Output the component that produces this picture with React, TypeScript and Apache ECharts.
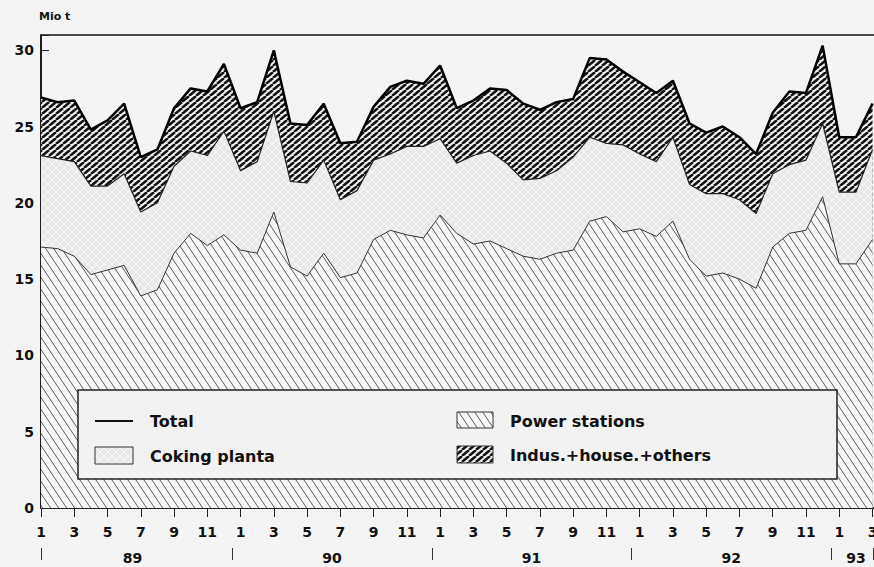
import React, { useEffect, useRef } from 'react';
import * as echarts from 'echarts';

// ---- data (Mio t), monthly Jan 1989 - Mar 1993 ----
const yearLabels = ['89', '90', '91', '92', '93'];
const monthsPerYear = [12, 12, 12, 12, 3];

const powerStations = [
  17.1, 17.0, 16.5, 15.3, 15.6, 15.9, 13.9, 14.3, 16.7, 18.0, 17.2, 17.9,
  16.9, 16.7, 19.4, 15.8, 15.2, 16.7, 15.1, 15.4, 17.6, 18.2, 17.9, 17.7,
  19.2, 18.0, 17.3, 17.5, 17.0, 16.5, 16.3, 16.7, 16.9, 18.8, 19.1, 18.1,
  18.3, 17.8, 18.8, 16.3, 15.2, 15.4, 15.0, 14.4, 17.1, 18.0, 18.2, 20.4,
  16.0, 16.0, 17.6,
];
const cokingPlants = [
  6.0, 5.9, 6.2, 5.8, 5.5, 6.0, 5.5, 5.7, 5.7, 5.4, 5.9, 6.8,
  5.2, 6.0, 6.6, 5.6, 6.1, 6.1, 5.1, 5.4, 5.2, 5.0, 5.8, 6.0,
  5.0, 4.6, 5.8, 5.9, 5.6, 5.0, 5.3, 5.4, 6.1, 5.5, 4.8, 5.7,
  4.9, 4.9, 5.5, 4.9, 5.4, 5.2, 5.2, 4.9, 4.8, 4.5, 4.6, 4.8,
  4.7, 4.7, 5.9,
];
const industryHouseOthers = [
  3.8, 3.7, 4.0, 3.7, 4.3, 4.6, 3.6, 3.5, 3.8, 4.1, 4.2, 4.4,
  4.1, 3.9, 4.0, 3.8, 3.8, 3.7, 3.7, 3.2, 3.5, 4.4, 4.3, 4.1,
  4.8, 3.6, 3.6, 4.1, 4.8, 5.0, 4.5, 4.5, 3.8, 5.2, 5.5, 4.8,
  4.7, 4.5, 3.7, 4.0, 4.0, 4.4, 4.1, 3.9, 4.0, 4.8, 4.4, 5.1,
  3.6, 3.6, 3.0,
];
const yTickValues = [0, 5, 10, 15, 20, 25, 30];

const FONT = 'DejaVu Sans';

function makePattern(w: number, h: number, draw: (ctx: CanvasRenderingContext2D) => void) {
  const c = document.createElement('canvas');
  c.width = w;
  c.height = h;
  const ctx = c.getContext('2d') as CanvasRenderingContext2D;
  draw(ctx);
  return { image: c.toDataURL(), repeat: 'repeat', imageWidth: w, imageHeight: h } as any;
}

export default function App() {
  const ref = useRef<HTMLDivElement>(null);

  useEffect(() => {
    if (!ref.current) return;
    const chart = echarts.init(ref.current, undefined, { renderer: 'svg' });

    // month number for each index, year label centres and separators
    const monthOf: number[] = [];
    const yearCenters: number[] = [];
    const yearSeps: number[] = [];
    let start = 0;
    monthsPerYear.forEach((n) => {
      for (let m = 1; m <= n; m++) monthOf.push(m);
      yearCenters.push(start + (n - 1) / 2);
      yearSeps.push(start - 0.5);
      start += n;
    });
    yearSeps.push(start - 0.5);
    const lastIdx = monthOf.length - 1;
    const sepTicks = yearSeps.map((b) => Math.min(Math.max(b, 0), lastIdx + 0.05));

    // cumulative boundaries of the stacked areas
    const cumPower = powerStations.map((p) => p);
    const cumCoking = powerStations.map((p, i) => +(p + cokingPlants[i]).toFixed(2));
    const total = powerStations.map((p, i) => +(p + cokingPlants[i] + industryHouseOthers[i]).toFixed(2));

    const powerPat = makePattern(8, 12, (ctx) => {
      ctx.fillStyle = '#f7f7f7';
      ctx.fillRect(0, 0, 8, 12);
      ctx.strokeStyle = '#5a5a5a';
      ctx.lineWidth = 1;
      for (const dx of [-8, 0, 8]) {
        ctx.beginPath();
        ctx.moveTo(dx, 0);
        ctx.lineTo(dx + 8, 12);
        ctx.stroke();
      }
    });
    const indusPat = makePattern(7, 6, (ctx) => {
      ctx.fillStyle = '#f2f2f2';
      ctx.fillRect(0, 0, 7, 6);
      ctx.strokeStyle = '#111';
      ctx.lineWidth = 2.5;
      for (const dx of [-7, 0, 7]) {
        ctx.beginPath();
        ctx.moveTo(dx, 6);
        ctx.lineTo(dx + 7, 0);
        ctx.stroke();
      }
    });
    const cokingPat = makePattern(8, 8, (ctx) => {
      ctx.fillStyle = '#e8e8e8';
      ctx.fillRect(0, 0, 8, 8);
      ctx.strokeStyle = 'rgba(255,255,255,0.75)';
      ctx.lineWidth = 1;
      ctx.beginPath();
      ctx.moveTo(0, 0);
      ctx.lineTo(8, 8);
      ctx.moveTo(0, 8);
      ctx.lineTo(8, 0);
      ctx.stroke();
    });

    const xMax = lastIdx + 0.45;
    const labelStyle = { color: '#111', fontFamily: FONT, fontWeight: 'bold' as const, fontSize: 14 };
    const textStyle = (t: string) => ({
      text: t,
      fill: '#111',
      fontFamily: FONT,
      fontWeight: 'bold',
      fontSize: 16,
      verticalAlign: 'middle',
      align: 'left',
    });

    chart.setOption({
      animation: false,
      backgroundColor: '#f4f4f4',
      title: {
        text: 'Mio t',
        left: 39,
        top: 11,
        padding: 0,
        textStyle: { fontFamily: FONT, fontWeight: 'bold', fontSize: 11, color: '#111' },
      },
      grid: {
        left: 41,
        top: 35,
        right: -6,
        bottom: 59,
        containLabel: false,
        outerBoundsMode: 'none',
        show: true,
        backgroundColor: 'transparent',
        borderColor: '#111',
        borderWidth: 1.5,
      },
      xAxis: [
        {
          type: 'value',
          min: 0,
          max: xMax,
          interval: 2,
          position: 'bottom',
          axisLine: { show: true, onZero: false, lineStyle: { color: '#111', width: 1.5 } },
          axisTick: { show: true, inside: false, length: 9, lineStyle: { color: '#222', width: 1 } },
          axisLabel: {
            ...labelStyle,
            margin: 17,
            formatter: (v: number) => (Number.isInteger(v) && v <= lastIdx ? String(monthOf[v]) : ''),
          },
          splitLine: { show: false },
        },
        {
          type: 'value',
          min: 0,
          max: xMax,
          interval: 1,
          position: 'bottom',
          axisLine: { show: false },
          axisTick: { show: true, inside: true, length: 6, lineStyle: { color: '#222', width: 1 } },
          axisLabel: { show: false },
          splitLine: { show: false },
        },
        {
          type: 'value',
          min: 0,
          max: xMax,
          position: 'bottom',
          offset: 40,
          axisLine: { show: false },
          axisTick: { show: true, inside: false, length: 12, customValues: sepTicks, lineStyle: { color: '#333', width: 1 } },
          axisLabel: {
            ...labelStyle,
            margin: 3,
            customValues: yearCenters,
            formatter: (v: number) => {
              const k = yearCenters.indexOf(v);
              return k >= 0 ? yearLabels[k] : '';
            },
          },
          splitLine: { show: false },
        },
      ],
      yAxis: {
        type: 'value',
        min: 0,
        max: 31,
        interval: 5,
        axisLine: { show: true, lineStyle: { color: '#111', width: 1.5 } },
        axisTick: { show: true, inside: true, length: 8, lineStyle: { color: '#222', width: 1 } },
        axisLabel: {
          ...labelStyle,
          margin: 7,
          formatter: (v: number) => (yTickValues.indexOf(v) >= 0 ? String(v) : ''),
        },
        splitLine: { show: false },
      },
      series: [
        {
          name: 'Indus.+house.+others',
          type: 'line',
          symbol: 'none',
          data: total.map((v, i) => [i, v]),
          lineStyle: { color: '#111', width: 1 },
          areaStyle: { color: indusPat, opacity: 1, origin: 'start' },
          z: 2,
        },
        {
          name: 'Coking planta',
          type: 'line',
          symbol: 'none',
          data: cumCoking.map((v, i) => [i, v]),
          lineStyle: { color: '#222', width: 1.2 },
          areaStyle: { color: cokingPat, opacity: 1, origin: 'start' },
          z: 3,
        },
        {
          name: 'Power stations',
          type: 'line',
          symbol: 'none',
          data: cumPower.map((v, i) => [i, v]),
          lineStyle: { color: '#333', width: 1 },
          areaStyle: { color: powerPat, opacity: 1, origin: 'start' },
          z: 4,
        },
        {
          name: 'Total',
          type: 'line',
          symbol: 'none',
          data: total.map((v, i) => [i, v]),
          lineStyle: { color: '#000', width: 2.5 },
          z: 5,
        },
      ],
      graphic: [
        {
          type: 'rect',
          z: 100,
          shape: { x: 78, y: 390, width: 759, height: 89 },
          style: { fill: '#f2f2f2', stroke: '#222', lineWidth: 1.5 },
        },
        {
          type: 'line',
          z: 101,
          shape: { x1: 95, y1: 421, x2: 133, y2: 421 },
          style: { stroke: '#111', lineWidth: 2 },
        },
        { type: 'text', z: 101, x: 150, y: 421, style: textStyle('Total') },
        {
          type: 'rect',
          z: 101,
          shape: { x: 95, y: 447, width: 38, height: 17 },
          style: { fill: cokingPat, stroke: '#333', lineWidth: 1 },
        },
        { type: 'text', z: 101, x: 150, y: 456, style: textStyle('Coking planta') },
        {
          type: 'rect',
          z: 101,
          shape: { x: 457, y: 412, width: 36, height: 16 },
          style: { fill: powerPat, stroke: '#333', lineWidth: 1 },
        },
        { type: 'text', z: 101, x: 510, y: 421, style: textStyle('Power stations') },
        {
          type: 'rect',
          z: 101,
          shape: { x: 457, y: 446, width: 36, height: 17 },
          style: { fill: indusPat, stroke: '#333', lineWidth: 1 },
        },
        { type: 'text', z: 101, x: 510, y: 455, style: textStyle('Indus.+house.+others') },
      ],
    });

    return () => chart.dispose();
  }, []);

  return (
    <div
      ref={ref}
      style={{ position: 'fixed', left: 0, top: 0, width: 874, height: 567 }}
    />
  );
}
